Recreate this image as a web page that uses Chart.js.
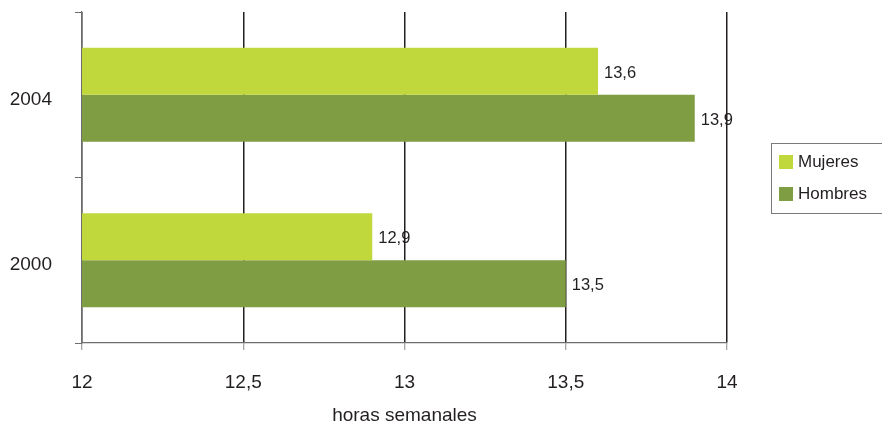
<!DOCTYPE html>
<html>
<head>
<meta charset="utf-8">
<script src="https://cdn.jsdelivr.net/npm/chart.js@4.4.1/dist/chart.umd.min.js"></script>
<style>
  html, body { margin: 0; padding: 0; background: #fff; }
  #wrap { width: 882px; height: 427px; position: relative; }
</style>
</head>
<body>
<div id="wrap"><canvas id="myChart"></canvas></div>
<script>
const years = ["2004", "2000"];
const mujeres = [13.6, 12.9];
const hombres = [13.9, 13.5];
const xTicks = [12, 12.5, 13, 13.5, 14];

const textColor = "#231f20";
const fontFamily = "'Liberation Sans', Arial, sans-serif";

function fmt(v) {
    return String(v).replace(".", ",");
}

// value labels right of each bar end
const valueLabels = {
    id: "valueLabels",
    afterDatasetsDraw(chart) {
        const c = chart.ctx;
        c.save();
        c.font = "16.5px " + fontFamily;
        c.fillStyle = textColor;
        c.textAlign = "left";
        c.textBaseline = "middle";
        chart.data.datasets.forEach((ds, i) => {
            chart.getDatasetMeta(i).data.forEach((el, j) => {
                c.fillText(fmt(ds.data[j]), el.x + 6, el.y + 2);
            });
        });
        c.restore();
    }
};

// boxed legend on the right
const boxLegend = {
    id: "boxLegend",
    afterDraw(chart) {
        const c = chart.ctx;
        c.save();
        c.strokeStyle = "#7a7a7a";
        c.lineWidth = 1;
        c.strokeRect(771.5, 143.5, 130, 70);
        c.font = "17px " + fontFamily;
        c.textBaseline = "middle";
        c.textAlign = "left";
        chart.data.datasets.forEach((ds, i) => {
            const y = 155 + i * 32;
            c.fillStyle = ds.backgroundColor;
            c.fillRect(779, y, 14, 14);
            c.fillStyle = textColor;
            c.fillText(ds.label, 798, y + 7);
        });
        c.restore();
    }
};

const ctx = document.getElementById("myChart");
const myChart = new Chart(ctx, {
    type: "bar",
    data: {
        labels: years,
        datasets: [
            { label: "Mujeres", backgroundColor: "#c0d83b", data: mujeres },
            { label: "Hombres", backgroundColor: "#7f9d42", data: hombres }
        ]
    },
    options: {
        indexAxis: "y",
        responsive: true,
        maintainAspectRatio: false,
        animation: false,
        layout: { padding: { left: 0, right: 155, top: 12, bottom: 0 } },
        datasets: { bar: { categoryPercentage: 0.568, barPercentage: 1 } },
        plugins: {
            legend: { display: false },
            tooltip: { enabled: false }
        },
        scales: {
            x: {
                min: 12,
                max: 14,
                afterBuildTicks(scale) {
                    scale.ticks = xTicks.map(v => ({ value: v }));
                },
                afterFit(scale) {
                    scale.height = 84;
                    scale.paddingLeft = 0;
                    scale.paddingRight = 0;
                },
                grid: {
                    color: "#231f20",
                    lineWidth: 1.5,
                    tickColor: "#8a8a8a",
                    tickLength: 7,
                    tickWidth: 1
                },
                border: { color: "#6d6d6d", width: 1.2 },
                ticks: {
                    color: textColor,
                    padding: 21,
                    font: { size: 19, family: fontFamily },
                    callback: v => fmt(v)
                },
                title: {
                    display: true,
                    text: "horas semanales",
                    color: textColor,
                    font: { size: 19, family: fontFamily },
                    padding: { top: 0, bottom: 0 }
                }
            },
            y: {
                afterFit(scale) {
                    scale.width = 82;
                    scale.paddingTop = 0;
                    scale.paddingBottom = 0;
                },
                grid: {
                    drawOnChartArea: false,
                    offset: true,
                    tickColor: "#6d6d6d",
                    tickLength: 7
                },
                border: { color: "#6d6d6d", width: 1.2 },
                ticks: {
                    color: textColor,
                    padding: 23,
                    labelOffset: 5,
                    font: { size: 19, family: fontFamily }
                }
            }
        }
    },
    plugins: [valueLabels, boxLegend]
});
</script>
</body>
</html>
